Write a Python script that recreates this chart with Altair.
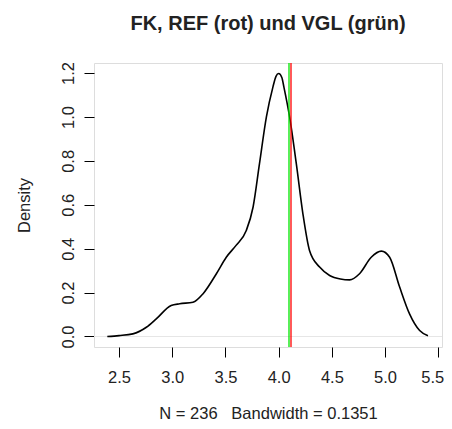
import altair as alt
import pandas as pd

# density curve
x_vals = [2.39, 2.50, 2.63, 2.757, 2.85, 2.99, 3.07, 3.195, 3.29, 3.415, 3.508, 3.60,
          3.696, 3.76, 3.82, 3.885, 3.946, 3.975, 4.00, 4.03, 4.05, 4.103, 4.166, 4.228,
          4.29, 4.385, 4.479, 4.58, 4.667, 4.76, 4.87, 4.965, 5.043, 5.137, 5.23, 5.325, 5.403]
dens = [0.0, 0.004, 0.012, 0.042, 0.08, 0.141, 0.149, 0.156, 0.195, 0.286, 0.361, 0.415,
        0.483, 0.59, 0.787, 1.0, 1.136, 1.185, 1.198, 1.18, 1.135, 1.0, 0.787, 0.559,
        0.392, 0.316, 0.278, 0.262, 0.258, 0.286, 0.361, 0.389, 0.361, 0.225, 0.103, 0.027, 0.003]

vline_values = [4.1161, 4.0973]
vline_names = ["REF", "VGL"]
vline_colors = ["#FF0000", "#00E600"]

x_ticks = [2.5, 3.0, 3.5, 4.0, 4.5, 5.0, 5.5]
y_ticks = [0.0, 0.2, 0.4, 0.6, 0.8, 1.0, 1.2]

title_text = "FK, REF (rot) und VGL (grün)"
x_title = "N = 236\u00a0\u00a0\u00a0Bandwidth = 0.1351"
y_title = "Density"

FONT = "Liberation Sans"

curve = pd.DataFrame({"x": x_vals, "density": dens})
vlines = pd.DataFrame({"x": vline_values, "name": vline_names})
zero = pd.DataFrame({"density": [0.0]})

xscale = alt.Scale(domain=[2.265, 5.535], nice=False, zero=False)
yscale = alt.Scale(domain=[-0.0479, 1.2459], nice=False, zero=False)

xaxis = alt.Axis(values=x_ticks, format=".1f", title=x_title, domain=False, grid=False,
                 tickColor="black", tickSize=10, tickWidth=1,
                 labelFont=FONT, labelFontSize=16.5, labelColor="#222", labelPadding=12,
                 labelFlush=False, labelOverlap=False,
                 labelOffset={"condition": {"test": "datum.value >= 5.45", "value": -6}, "value": 0},
                 titleFont=FONT, titleFontSize=16.5, titleFontWeight="normal", titleColor="#222",
                 titleX=174, titleY=66, titleAlign="center", titleBaseline="middle")
yaxis = alt.Axis(values=y_ticks, format=".1f", title=y_title, domain=False, grid=False,
                 tickColor="black", tickSize=10, tickWidth=1,
                 labelFont=FONT, labelFontSize=16.5, labelColor="#222", labelPadding=11,
                 labelAngle=270, labelAlign="center", labelBaseline="alphabetic",
                 labelFlush=False, labelOverlap=False,
                 titleFont=FONT, titleFontSize=16.5, titleFontWeight="normal", titleColor="#222",
                 titleAngle=270, titleX=-70, titleY=142, titleAlign="center", titleBaseline="middle")

zero_line = alt.Chart(zero).mark_rule(color="#e6e6e6", strokeWidth=1).encode(
    y=alt.Y("density:Q", scale=yscale, axis=yaxis)
)

line = alt.Chart(curve).mark_line(color="black", strokeWidth=1.6, interpolate="monotone").encode(
    x=alt.X("x:Q", scale=xscale, axis=xaxis),
    y=alt.Y("density:Q", scale=yscale, axis=yaxis),
)

rules = alt.Chart(vlines).mark_rule(strokeWidth=1.3).encode(
    x=alt.X("x:Q", scale=xscale, axis=xaxis),
    color=alt.Color("name:N", scale=alt.Scale(domain=vline_names, range=vline_colors), legend=None),
)

chart = alt.layer(zero_line, line, rules).properties(
    width=348, height=284,
    title=alt.TitleParams(text=title_text, font=FONT, fontSize=20, fontWeight="bold", color="#222",
                          anchor="middle", frame="group", offset=12, baseline="alphabetic"),
    autosize=alt.AutoSizeParams(type="none"),
    padding={"left": 86, "top": 55, "right": 2, "bottom": 74},
).configure_view(stroke="#222", strokeWidth=1).configure(background="white")

chart.save("out.html", embed_options={"renderer": "svg", "actions": False})
